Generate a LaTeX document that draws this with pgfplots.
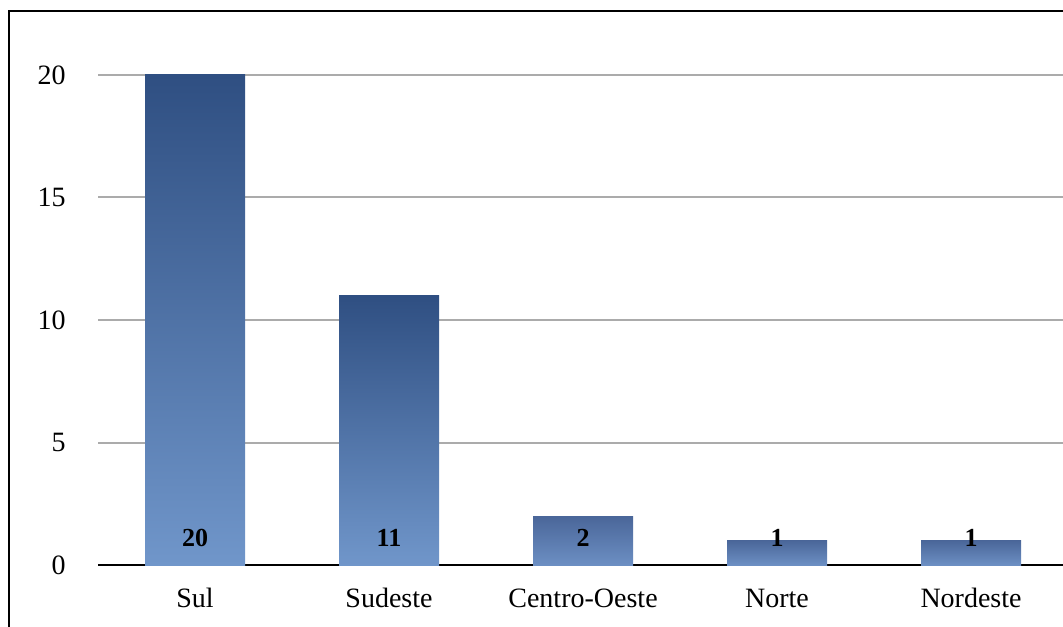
\documentclass[border=0pt]{standalone}
\usepackage{fontspec}
\setmainfont{Liberation Serif}
\usepackage{pgfplots}
\pgfplotsset{compat=1.18}
\definecolor{bartop}{HTML}{2F4F82}
\definecolor{barmid}{HTML}{4B6CA2}
\definecolor{barbot}{HTML}{7096CA}
\definecolor{shorttop}{HTML}{4A6699}
\definecolor{shortbot}{HTML}{6C8FC3}
\definecolor{gridgray}{HTML}{ABABAB}
\begin{document}
\begin{tikzpicture}
\useasboundingbox (0,0) rectangle (531.5pt,313pt);
\draw[line width=1pt] (4.5pt,-20pt) rectangle (560pt,307.5pt);
\begin{axis}[
  at={(49pt,30.5pt)}, anchor=south west,
  scale only axis, width=482.5pt, height=245pt,
  xmin=-0.5, xmax=4.474, ymin=0, ymax=20,
  clip=false,
  /pgf/number format/assume math mode=true,
  ytick={0,5,10,15,20},
  xtick={0,1,2,3,4},
  xticklabels={Sul,Sudeste,Centro-Oeste,Norte,Nordeste},
  axis x line*=bottom,
  axis y line*=left,
  y axis line style={draw=none},
  x axis line style={line width=0.8pt,-},
  major tick length=0pt,
  ymajorgrids,
  grid style={color=gridgray, line width=1pt},
  tick label style={font=\fontsize{14}{16}\selectfont},
  yticklabel style={anchor=east, inner sep=0pt, xshift=-16pt},
  xticklabel style={anchor=base, inner sep=0pt, yshift=-21pt},
  barstyle/.style={ybar, bar width=50pt, bar shift=0pt, draw=none,
    top color=bartop, middle color=barmid, bottom color=barbot},
  shortbar/.style={ybar, bar width=50pt, bar shift=0pt, draw=none,
    top color=shorttop, bottom color=shortbot},
]
\addplot[barstyle] coordinates {(0,20)};
\addplot[barstyle] coordinates {(1,11)};
\addplot[shortbar] coordinates {(2,2)};
\addplot[shortbar] coordinates {(3,1)};
\addplot[shortbar] coordinates {(4,1)};
\addplot[only marks, mark=none, point meta=explicit,
  nodes near coords={\pgfmathprintnumber{\pgfplotspointmeta}},
  every node near coord/.append style={anchor=center, inner sep=0pt,
    text=black, font=\bfseries\fontsize{13}{15}\selectfont}]
  coordinates {(0,1.12)[20] (1,1.12)[11] (2,1.12)[2] (3,1.12)[1] (4,1.12)[1]};
\end{axis}
\end{tikzpicture}
\end{document}
